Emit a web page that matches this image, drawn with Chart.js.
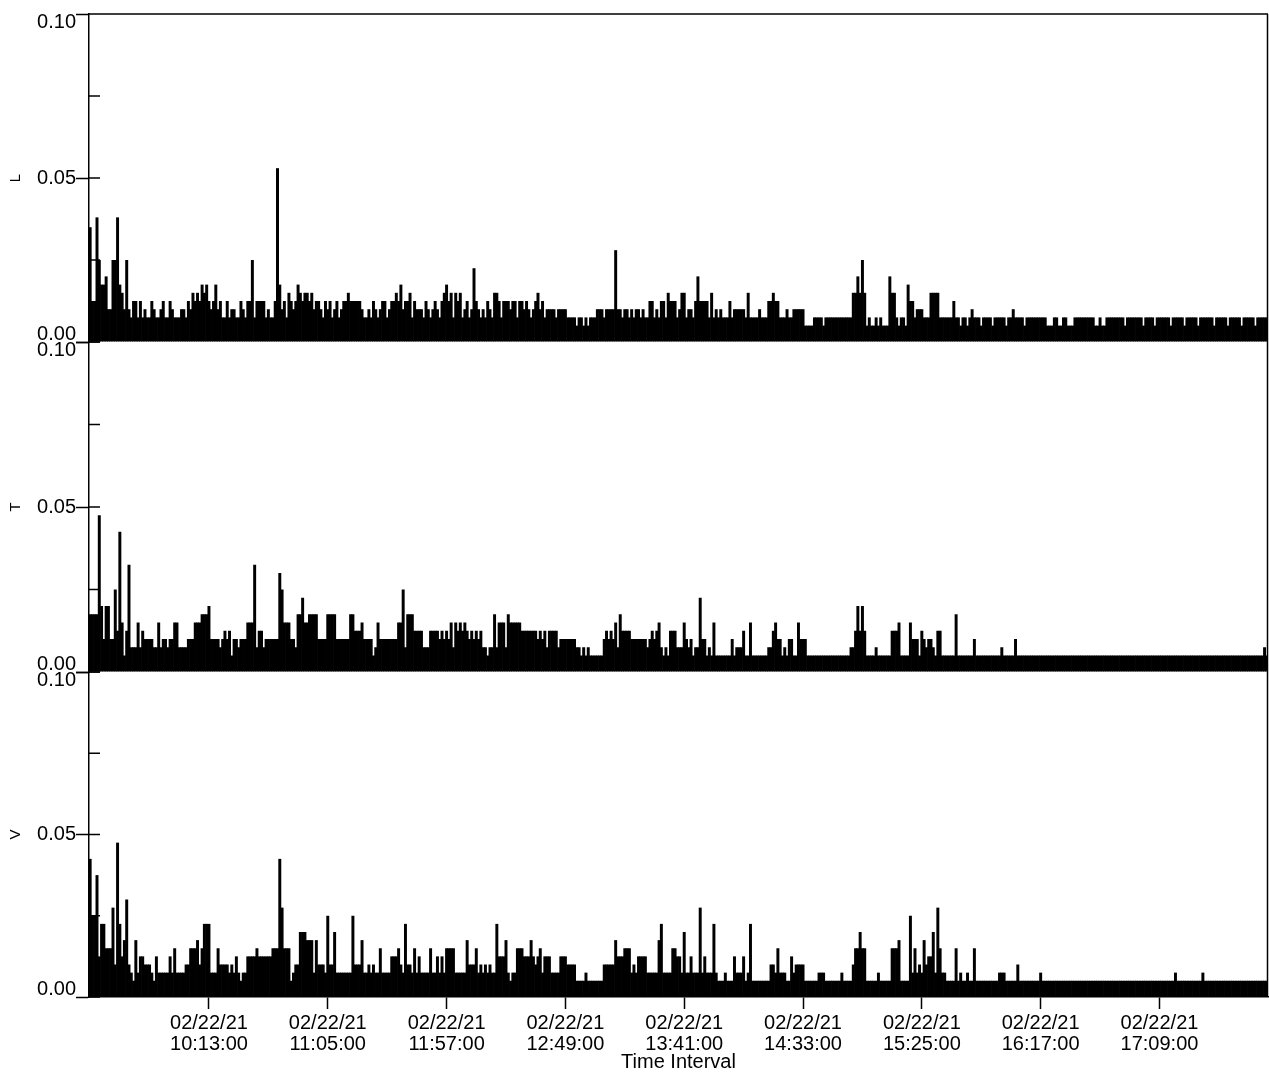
<!DOCTYPE html>
<html>
<head>
<meta charset="utf-8">
<script src="https://cdn.jsdelivr.net/npm/chart.js@4.4.1/dist/chart.umd.min.js"></script>
<style>
  html, body { margin: 0; padding: 0; background: #fff; }
  #wrap { position: relative; width: 1269px; height: 1072px; overflow: hidden; background: #fff; }
  canvas { position: absolute; left: 0; }
</style>
</head>
<body>
<div id="wrap">
  <canvas id="cL" width="1269" height="352" style="top:0px"></canvas>
  <canvas id="cT" width="1269" height="352" style="top:330px"></canvas>
  <canvas id="cV" width="1269" height="412" style="top:660px"></canvas>
</div>
<script>
// ---- data ----
const startTime = '09:21:00';
const dateLabel = '02/22/21';
const tickTimes = ['10:13:00','11:05:00','11:57:00','12:49:00','13:41:00','14:33:00','15:25:00','16:17:00','17:09:00'];
const yTickLabels = ['0.00', '0.05', '0.10'];
const panelTitles = ['L', 'T', 'V'];

const L = [
.035,.0125,.0125,.038,.025,.0175,.0175,.02,.01,.01,
.025,.025,.038,.0175,.015,.01,.025,.01,.0075,.0125,
.0125,.0075,.0125,.0075,.01,.0075,.0075,.0125,.01,.0075,
.0075,.01,.0125,.0075,.0075,.0125,.01,.0075,.0075,.0075,
.01,.01,.0075,.0125,.01,.015,.0125,.015,.0125,.0175,
.015,.0175,.0125,.01,.0125,.0175,.01,.0125,.0075,.0075,
.0125,.0075,.01,.01,.0075,.0075,.0125,.01,.0075,.0125,
.0125,.025,.0075,.0125,.0125,.0125,.0125,.0075,.01,.0075,
.0075,.0125,.053,.0175,.01,.0125,.0075,.015,.0125,.01,
.0125,.0175,.015,.0125,.015,.015,.0125,.015,.01,.0125,
.0125,.01,.0075,.0125,.01,.0125,.0075,.01,.0125,.0075,
.01,.0125,.0125,.015,.0125,.0125,.0125,.0125,.0125,.01,
.0075,.0075,.01,.0075,.0125,.01,.0075,.01,.0125,.0125,
.0075,.01,.0125,.0125,.015,.0125,.0175,.01,.0125,.0125,
.015,.0075,.0125,.01,.01,.01,.0075,.0125,.01,.0075,
.01,.0125,.01,.0075,.0125,.015,.0175,.0125,.015,.0075,
.015,.0125,.015,.0075,.01,.0125,.0075,.01,.0225,.0125,
.01,.0075,.01,.0075,.0125,.01,.0075,.015,.015,.0125,
.0075,.0125,.0125,.0125,.01,.0125,.0125,.0075,.0125,.0125,
.01,.0125,.01,.0075,.01,.0125,.015,.01,.0125,.0075,
.01,.01,.01,.01,.0075,.01,.01,.01,.01,.0075,
.0075,.0075,.0075,.005,.0075,.0075,.005,.0075,.005,.0075,
.0075,.0075,.01,.01,.01,.0075,.01,.01,.01,.01,
.028,.01,.01,.0075,.01,.01,.0075,.01,.0075,.01,
.01,.0075,.01,.0075,.0075,.0125,.0125,.0075,.01,.0075,
.0125,.0125,.0075,.015,.0125,.0125,.0125,.0075,.01,.015,
.015,.0075,.01,.01,.0075,.0125,.02,.0125,.0125,.0125,
.0125,.0075,.015,.0075,.01,.0075,.01,.0075,.0075,.0075,
.0125,.0075,.01,.01,.01,.01,.01,.0075,.015,.0075,
.0075,.0075,.0075,.01,.0075,.0075,.0075,.0125,.0125,.015,
.0125,.0125,.0075,.0075,.0075,.01,.0075,.0075,.01,.01,
.01,.01,.01,.005,.005,.005,.005,.0075,.0075,.0075,
.0075,.005,.0075,.0075,.0075,.0075,.0075,.0075,.0075,.0075,
.0075,.0075,.0075,.0075,.015,.015,.02,.015,.025,.015,
.005,.0075,.005,.005,.0075,.005,.0075,.005,.005,.005,
.02,.015,.015,.0075,.005,.0075,.0075,.005,.0175,.0125,
.0125,.0075,.01,.01,.01,.0075,.0075,.0075,.015,.015,
.015,.015,.0075,.0075,.0075,.0075,.0075,.0075,.0125,.0075,
.0075,.005,.0075,.0075,.005,.0075,.01,.0075,.0075,.0075,
.005,.0075,.0075,.0075,.0075,.005,.0075,.0075,.0075,.0075,
.0075,.005,.0075,.0075,.01,.0075,.0075,.0075,.0075,.005,
.0075,.0075,.0075,.0075,.0075,.0075,.0075,.0075,.0075,.005,
.005,.005,.0075,.0075,.005,.005,.0075,.0075,.005,.005,
.005,.0075,.0075,.0075,.0075,.0075,.0075,.0075,.0075,.0075,
.005,.005,.0075,.005,.005,.0075,.0075,.0075,.0075,.0075,
.0075,.0075,.0075,.005,.0075,.0075,.0075,.0075,.0075,.0075,
.0075,.005,.0075,.0075,.0075,.0075,.005,.0075,.0075,.0075,
.0075,.0075,.0075,.005,.0075,.0075,.0075,.0075,.0075,.005,
.0075,.0075,.0075,.0075,.0075,.005,.0075,.0075,.0075,.0075,
.0075,.0075,.005,.0075,.0075,.0075,.0075,.0075,.005,.0075,
.0075,.0075,.0075,.0075,.005,.0075,.0075,.0075,.0075,.0075,
.005,.0075,.0075,.0075,.0075,.0075
];

const T = [
.0175,.0175,.0175,.0175,.0475,.02,.01,.02,.02,.01,
.01,.025,.0125,.0425,.015,.005,.0125,.0325,.0075,.0075,
.0075,.015,.0075,.0125,.01,.01,.01,.01,.0075,.0075,
.015,.0075,.01,.01,.0075,.01,.01,.015,.015,.0075,
.0075,.0075,.0075,.01,.01,.01,.015,.015,.015,.0175,
.0175,.0175,.02,.01,.01,.01,.01,.0075,.01,.0125,
.01,.0125,.005,.01,.01,.0075,.01,.01,.01,.015,
.015,.015,.0325,.0075,.0125,.0125,.0075,.01,.01,.01,
.01,.01,.01,.03,.025,.015,.015,.015,.01,.01,
.0075,.0175,.0175,.0225,.015,.015,.0175,.0175,.0175,.0175,
.01,.01,.01,.01,.0175,.0175,.0175,.0175,.01,.01,
.01,.01,.01,.01,.0175,.0175,.0125,.0125,.0125,.015,
.01,.01,.01,.01,.005,.0075,.015,.01,.01,.01,
.01,.01,.01,.01,.01,.015,.015,.025,.0075,.0175,
.0175,.0175,.0125,.0125,.0125,.0125,.0075,.0075,.0075,.0125,
.0125,.0125,.0125,.01,.0125,.01,.0125,.01,.015,.0075,
.015,.0125,.015,.0125,.015,.0125,.01,.0125,.01,.0125,
.01,.0125,.0075,.0075,.005,.0075,.0075,.0175,.0075,.015,
.015,.015,.0075,.0175,.015,.015,.015,.015,.015,.0125,
.0125,.0125,.0125,.0125,.0125,.0125,.01,.0125,.01,.0125,
.0075,.0125,.0125,.0125,.0125,.0075,.01,.01,.01,.01,
.01,.01,.01,.0075,.0075,.005,.0075,.005,.0075,.005,
.005,.005,.005,.005,.005,.01,.0125,.01,.0125,.01,
.015,.0075,.0175,.0125,.0125,.0125,.0125,.01,.01,.01,
.01,.01,.01,.01,.0075,.01,.0125,.01,.0125,.015,
.0075,.005,.0075,.005,.0125,.0125,.0125,.0075,.0075,.0075,
.015,.01,.0075,.01,.005,.0075,.0075,.0225,.01,.01,
.005,.0075,.005,.015,.005,.005,.005,.005,.005,.005,
.005,.01,.005,.0075,.0075,.0075,.0125,.005,.005,.015,
.005,.005,.005,.005,.005,.005,.005,.0075,.0075,.0125,
.015,.01,.01,.005,.0075,.005,.01,.01,.005,.005,
.015,.01,.01,.01,.005,.005,.005,.005,.005,.005,
.005,.005,.005,.005,.005,.005,.005,.005,.005,.005,
.005,.005,.005,.0075,.0075,.0125,.02,.0125,.02,.0125,
.005,.005,.005,.005,.0075,.005,.005,.005,.005,.005,
.005,.0125,.0125,.0125,.015,.005,.005,.005,.005,.015,
.01,.01,.01,.005,.0125,.01,.0075,.01,.01,.0075,
.005,.0125,.0125,.005,.005,.005,.005,.005,.005,.0175,
.005,.005,.005,.005,.005,.005,.005,.01,.005,.005,
.005,.005,.005,.005,.005,.005,.005,.005,.005,.0075,
.005,.005,.005,.005,.005,.01,.005,.005,.005,.005,
.005,.005,.005,.005,.005,.005,.005,.005,.005,.005,
.005,.005,.005,.005,.005,.005,.005,.005,.005,.005,
.005,.005,.005,.005,.005,.005,.005,.005,.005,.005,
.005,.005,.005,.005,.005,.005,.005,.005,.005,.005,
.005,.005,.005,.005,.005,.005,.005,.005,.005,.005,
.005,.005,.005,.005,.005,.005,.005,.005,.005,.005,
.005,.005,.005,.005,.005,.005,.005,.005,.005,.005,
.005,.005,.005,.005,.005,.005,.005,.005,.005,.005,
.005,.005,.005,.005,.005,.005,.005,.005,.005,.005,
.005,.005,.005,.005,.005,.005,.005,.005,.005,.005,
.005,.005,.005,.005,.0075,.005
];

const V = [
.0425,.025,.025,.0375,.0125,.0225,.0225,.015,.015,.015,
.0275,.01,.0475,.0225,.0125,.0175,.03,.01,.0075,.005,
.0175,.0075,.0125,.0125,.01,.01,.01,.0075,.005,.0125,
.0075,.0075,.0075,.0075,.0075,.0125,.0075,.015,.0075,.0075,
.0075,.0075,.01,.01,.015,.015,.015,.0175,.01,.015,
.0225,.0225,.0225,.0075,.0075,.0075,.015,.01,.01,.01,
.01,.0075,.01,.0075,.0125,.0075,.005,.0075,.0075,.0125,
.0125,.0125,.0125,.015,.0125,.0125,.0125,.0125,.0125,.0125,
.015,.015,.015,.0425,.0275,.015,.015,.015,.005,.0075,
.01,.01,.02,.02,.02,.0175,.0175,.0175,.0075,.0175,
.01,.01,.01,.0075,.025,.01,.01,.02,.0075,.0075,
.0075,.0075,.0075,.0075,.0075,.025,.01,.01,.01,.0175,
.0075,.0075,.01,.0075,.01,.0075,.0075,.015,.0075,.0075,
.0075,.0075,.0125,.0125,.0125,.015,.01,.0075,.0225,.01,
.01,.0075,.015,.0075,.0125,.0075,.0075,.0075,.0075,.015,
.0075,.0075,.0125,.0075,.0125,.0075,.015,.015,.015,.015,
.0075,.0075,.0075,.0075,.0075,.0175,.01,.01,.01,.015,
.0075,.01,.0075,.01,.0075,.01,.0075,.0075,.0225,.0125,
.0125,.0125,.0175,.0075,.005,.0075,.0075,.015,.015,.015,
.0125,.0125,.0125,.0175,.0125,.01,.0125,.015,.0075,.0125,
.0125,.0125,.0075,.0075,.0075,.0075,.0125,.0125,.0125,.01,
.01,.01,.01,.005,.005,.005,.005,.0075,.005,.005,
.005,.005,.005,.005,.005,.01,.01,.01,.01,.01,
.0175,.0125,.0125,.0125,.015,.015,.015,.0075,.01,.0075,
.0125,.0125,.0125,.0125,.0075,.0075,.0075,.0075,.0075,.0175,
.0225,.0075,.0075,.0075,.0075,.015,.015,.0125,.0125,.0075,
.02,.0075,.0075,.0125,.0075,.0075,.0075,.0275,.0075,.0125,
.0075,.0075,.0075,.0225,.0075,.005,.005,.005,.0075,.005,
.005,.005,.0125,.0075,.0075,.0075,.0125,.005,.0075,.0225,
.005,.005,.005,.005,.005,.005,.005,.005,.01,.01,
.0075,.015,.0075,.0075,.0075,.005,.005,.0125,.0075,.01,
.01,.01,.01,.005,.005,.005,.005,.005,.005,.0075,
.0075,.0075,.005,.005,.005,.005,.005,.005,.005,.0075,
.005,.005,.005,.005,.01,.015,.015,.02,.015,.015,
.005,.005,.005,.005,.005,.0075,.005,.005,.005,.005,
.005,.015,.015,.015,.0175,.005,.005,.005,.005,.025,
.0075,.015,.0075,.01,.0075,.0175,.01,.0125,.0125,.02,
.0075,.0275,.015,.0075,.0075,.005,.005,.005,.005,.015,
.005,.0075,.005,.005,.0075,.005,.005,.015,.005,.005,
.005,.005,.005,.005,.005,.005,.005,.005,.0075,.0075,
.0075,.005,.005,.005,.005,.005,.01,.005,.005,.005,
.005,.005,.005,.005,.005,.005,.0075,.005,.005,.005,
.005,.005,.005,.005,.005,.005,.005,.005,.005,.005,
.005,.005,.005,.005,.005,.005,.005,.005,.005,.005,
.005,.005,.005,.005,.005,.005,.005,.005,.005,.005,
.005,.005,.005,.005,.005,.005,.005,.005,.005,.005,
.005,.005,.005,.005,.005,.005,.005,.005,.005,.005,
.005,.005,.005,.005,.005,.0075,.005,.005,.005,.005,
.005,.005,.005,.005,.005,.005,.005,.0075,.005,.005,
.005,.005,.005,.005,.005,.005,.005,.005,.005,.005,
.005,.005,.005,.005,.005,.005,.005,.005,.005,.005,
.005,.005,.005,.005,.005,.005
];

// ---- category table (one bar per minute from the start time) ----
const pad2 = (n) => String(n).padStart(2, '0');
const [sh, sm] = startTime.split(':').map(Number);
const categories = L.map((_, i) => {
  const m = sh * 60 + sm + i;
  return pad2(Math.floor(m / 60)) + ':' + pad2(m % 60) + ':00';
});

const FONT = "'Liberation Sans', Arial, Helvetica, sans-serif";
const near = (a, b) => Math.abs(a - b) < 1e-9;

const framePlugin = {
  id: 'frame',
  afterDraw(chart, args, opts) {
    const { ctx, chartArea: a } = chart;
    const y = chart.scales.y;
    ctx.save();
    ctx.strokeStyle = '#000';
    ctx.lineWidth = 1.5;
    ctx.beginPath();
    if (opts.top) { ctx.moveTo(a.left, a.top); ctx.lineTo(a.right, a.top); }
    ctx.moveTo(a.right - 0.5, a.top); ctx.lineTo(a.right - 0.5, a.bottom);
    y.ticks.forEach((t) => {
      const p = y.getPixelForValue(t.value);
      ctx.moveTo(a.left, p); ctx.lineTo(a.left + 11, p);
    });
    ctx.stroke();
    ctx.restore();
  }
};

function makePanel(id, values, title, opt) {
  return new Chart(document.getElementById(id), {
    type: 'bar',
    data: {
      labels: categories,
      datasets: [{
        data: values,
        backgroundColor: '#000',
        borderWidth: 0,
        barPercentage: 1.3,
        categoryPercentage: 1
      }]
    },
    options: {
      responsive: false,
      animation: false,
      devicePixelRatio: 1,
      layout: { padding: { top: opt.padTop, bottom: opt.padBottom, left: 0, right: 1 } },
      plugins: {
        legend: { display: false },
        tooltip: { enabled: false },
        frame: { top: opt.top }
      },
      scales: {
        x: {
          display: opt.showX,
          offset: true,
          grid: {
            display: true,
            drawOnChartArea: false,
            offset: false,
            tickLength: 12,
            tickWidth: 1.5,
            tickColor: (c) => (c.tick && c.tick.label ? '#000' : 'rgba(0,0,0,0)')
          },
          border: { color: '#000', width: 1.5 },
          ticks: {
            autoSkip: false,
            maxRotation: 0,
            minRotation: 0,
            padding: 4,
            color: '#000',
            font: { family: FONT, size: 20, lineHeight: 1.05 },
            callback: (v, i) => (tickTimes.includes(categories[i]) ? [dateLabel, categories[i]] : null)
          },
          title: {
            display: true,
            text: 'Time Interval',
            color: '#000',
            font: { family: FONT, size: 20, lineHeight: 1 },
            padding: { top: 0, bottom: 0 }
          },
          afterFit: (s) => {
            if (opt.showX) { s.height = 75; } else { s.height = 0; }
            s.paddingLeft = 0; s.paddingRight = 0;
          }
        },
        y: {
          min: 0,
          max: 0.1,
          ticks: {
            stepSize: 0.025,
            padding: 0,
            color: '#000',
            font: { family: FONT, size: 20, lineHeight: 0.8 },
            callback: (v) => {
              if (near(v, 0.1)) return ['', yTickLabels[2]];
              if (near(v, 0.05)) return yTickLabels[1];
              if (near(v, 0)) return [yTickLabels[0], ''];
              return '';
            }
          },
          grid: {
            drawOnChartArea: false,
            tickLength: 13,
            tickWidth: 1.5,
            tickColor: (c) => (c.tick && (near(c.tick.value, 0) || near(c.tick.value, 0.05) || near(c.tick.value, 0.1)) ? '#000' : 'rgba(0,0,0,0)')
          },
          border: { color: '#000', width: 1.5 },
          title: {
            display: true,
            text: title,
            color: '#000',
            font: { family: FONT, size: 15, lineHeight: 1 },
            padding: { top: 8, bottom: 0 }
          },
          afterFit: (s) => { s.width = 89; s.paddingTop = 0; s.paddingBottom = 0; }
        }
      }
    },
    plugins: [framePlugin]
  });
}

makePanel('cL', L, panelTitles[0], { padTop: 14, padBottom: 10, showX: false, top: true });
makePanel('cT', T, panelTitles[1], { padTop: 12, padBottom: 10, showX: false, top: false });
makePanel('cV', V, panelTitles[2], { padTop: 12, padBottom: 0, showX: true, top: false });
</script>
</body>
</html>
